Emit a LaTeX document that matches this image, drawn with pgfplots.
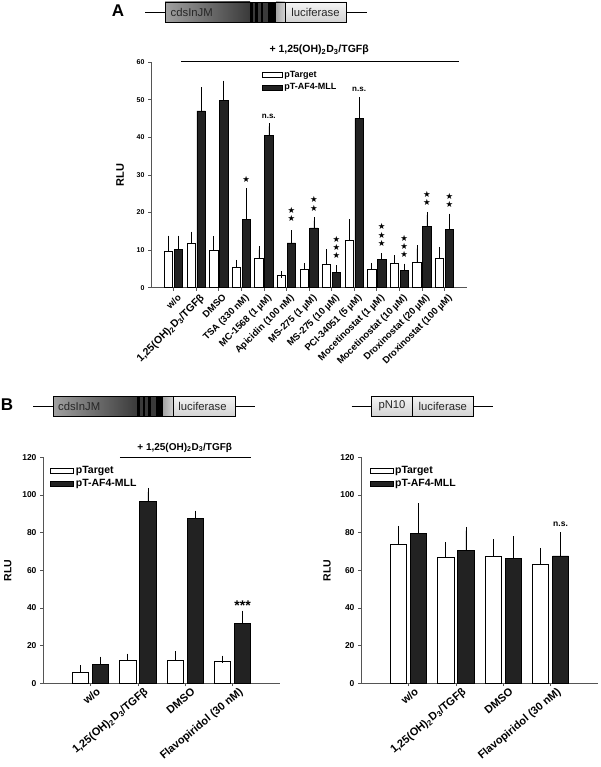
\documentclass[border=0pt]{standalone}
\usepackage{pgfplots}
\pgfplotsset{compat=1.18}
\usepackage{pgfplotstable}
\usepackage{fontspec}
\setmainfont{Liberation Sans}
\newfontfamily\dejavu{DejaVu Sans}
\definecolor{barblack}{HTML}{222222}
\definecolor{axgray}{HTML}{555555}
\definecolor{dl}{HTML}{A0A0A0}
\definecolor{dd}{HTML}{3A3A3A}

\pgfplotstableread{
x y e
0 9.8 3.2
1 11.8 2.2
2 9.9 2.9
3 5.5 1.0
4 7.8 2.3
5 3.4 0.15
6 4.9 0.85
7 6.3 3.0
8 12.6 4.7
9 5.0 0.75
10 6.4 1.3
11 6.7 3.7
12 7.9 2.1
}\Awhite
\pgfplotstableread{
x y e
0 10.1 2.9
1 47.0 5.4
2 49.8 4.4
3 18.1 7.5
4 40.5 2.4
5 11.9 2.5
6 15.9 1.9
7 4.1 1.0
8 45.0 4.7
9 7.6 0.7
10 4.7 0.8
11 16.3 3.0
12 15.5 3.3
}\Ablack
\pgfplotstableread{
x y e
0 5.8 1.8
1 12.4 1.4
2 12.2 2.7
3 11.5 1.2
}\BLwhite
\pgfplotstableread{
x y e
0 10.1 2.1
1 96.4 5.3
2 87.6 2.1
3 32.0 4.6
}\BLblack
\pgfplotstableread{
x y e
0 73.7 7.9
1 66.7 6.2
2 67.2 7.2
3 63.2 6.7
}\BRwhite
\pgfplotstableread{
x y e
0 79.7 14.0
1 70.4 10.7
2 66.4 9.7
3 67.6 10.6
}\BRblack

\pgfplotsset{
  rlu/.style={
    scale only axis,
    ybar,
    axis x line*=bottom, axis y line*=left,
    axis line style={axgray, line width=0.6pt},
    tick style={axgray, line width=0.6pt},
    tick align=outside,
    major tick length=3pt,
    ymin=0, xmin=-1,
    enlargelimits=false,
    clip=false,
    /pgf/number format/assume math mode=true,
    legend cell align=left,
    error bars/y dir=plus,
    error bars/y explicit,
    error bars/error bar style={black, line width=0.6pt},
  },
  wbar/.style={draw=black, fill=white, line width=0.6pt},
  kbar/.style={draw=black, fill=barblack, line width=0.6pt},
}

\newcommand{\stars}[2]{\pgfplotsinvokeforeach{#2}{\node[font=\dejavu\fontsize{8.5}{8.5}\selectfont, inner sep=0pt] at (axis cs:#1,##1) {★};}}
\newcommand{\vd}{1,25(OH)\textsubscript{2}D\textsubscript{3}/TGFβ}

\begin{document}
\begin{tikzpicture}[x=1pt,y=1pt]
\useasboundingbox (0,0) rectangle (600,-767);

% ---------- gene diagram A
\draw[line width=0.7pt] (145,-12) -- (366.7,-12);
\shade[left color=dl, right color=dd] (165,-2) rectangle (250,-22);
\fill[dd] (250,-2) rectangle (276,-22);
\foreach \a/\b in {250/252.7, 255.3/258, 260.7/263.3, 268.3/275.7} \fill[black] (\a,-2) rectangle (\b,-22);
\shade[left color=gray!70, right color=gray!35] (276,-2) rectangle (285,-22);
\shade[top color=gray!8, bottom color=gray!35] (285,-2) rectangle (346.7,-22);
\draw[line width=0.6pt] (165,-2) rectangle (346.7,-22);
\draw[line width=0.6pt] (285,-2) -- (285,-22);
\node[font=\fontsize{11.3}{12}\selectfont, text=black!85] at (191.7,-12) {cdsInJM};
\node[font=\fontsize{11.3}{12}\selectfont, text=black!85] at (315.5,-12) {luciferase};
\node[font=\bfseries\fontsize{17}{17}\selectfont] at (118,-11) {A};

% ---------- panel A
\begin{axis}[rlu,
  at={(151pt,-287.7pt)}, anchor=south west,
  width=316pt, height=225.7pt,
  xmax=13, ymax=60,
  bar width=0.37,
  xtick={0,...,12},
  xticklabels={w/o, {\fontsize{10.5}{11}\selectfont\vd}, DMSO, TSA (330 nM), MC-1568 (1 µM), Apicidin (100 nM), MS-275 (1 µM), MS-275 (10 µM), PCI-34051 (5 µM), Mocetinostat (1 µM), Mocetinostat (10 µM), Droxinostat (20 µM), Droxinostat (100 µM)},
  xticklabel style={font=\bfseries\fontsize{9.5}{10}\selectfont, rotate=45, anchor=north east, inner sep=1pt, yshift=-3pt, xshift=1.5pt},
  ytick={0,10,...,60},
  yticklabel style={font=\bfseries\fontsize{7}{8}\selectfont},
  ylabel={RLU},
  ylabel style={font=\bfseries\fontsize{11}{12}\selectfont, at={(axis description cs:-0.098,0.5)}, anchor=center},
  error bars/error mark options={black, line width=0.6pt, mark size=3.3pt},
  legend image code/.code={\draw[#1,draw=black] (0pt,-2.5pt) rectangle (20pt,2.5pt);},
  legend style={draw=none, fill=none, at={(0.35,0.97)}, anchor=north west, inner sep=0pt, row sep=1pt,
     font=\bfseries\fontsize{9}{10}\selectfont},
]
\addplot[wbar, bar shift=-0.22] table[x=x, y=y, y error=e] {\Awhite};
\addplot[kbar, bar shift=0.22] table[x=x, y=y, y error=e] {\Ablack};
\legend{pTarget, pT-AF4-MLL}
\draw[line width=0.7pt] (axis cs:0.33,60.2) -- (axis cs:12.65,60.2);
\node[font=\bfseries\fontsize{10.5}{12}\selectfont] at (axis cs:6.45,63.2) {+ \vd};
\stars{3.22}{28.8}
\stars{5.22}{20.6,18.4}
\stars{6.22}{23.5,21.2}
\stars{7.22}{12.9,10.7,8.5}
\stars{9.22}{16.2,14.0,11.8}
\stars{10.22}{13.1,10.9,8.8}
\stars{11.22}{24.8,22.6}
\stars{12.22}{24.3,22.1}
\node[font=\bfseries\fontsize{8}{9}\selectfont] at (axis cs:4.22,45.6) {n.s.};
\node[font=\bfseries\fontsize{8}{9}\selectfont] at (axis cs:8.22,52.7) {n.s.};
\end{axis}

% ---------- gene diagram B left
\draw[line width=0.7pt] (33.3,-406) -- (255,-406);
\shade[left color=dl, right color=dd] (53.3,-396) rectangle (137.3,-416.7);
\fill[dd] (137.3,-396) rectangle (163.3,-416.7);
\foreach \a/\b in {137.3/140, 142.7/145.3, 148/150.7, 156/163.3} \fill[black] (\a,-396) rectangle (\b,-416.7);
\shade[left color=gray!70, right color=gray!35] (163.3,-396) rectangle (173.3,-416.7);
\shade[top color=gray!8, bottom color=gray!35] (173.3,-396) rectangle (235,-416.7);
\draw[line width=0.6pt] (53.3,-396) rectangle (235,-416.7);
\draw[line width=0.6pt] (173.3,-396) -- (173.3,-416.7);
\node[font=\fontsize{11.3}{12}\selectfont, text=black!85] at (79.2,-406) {cdsInJM};
\node[font=\fontsize{11.3}{12}\selectfont, text=black!85] at (202.5,-406) {luciferase};
\node[font=\bfseries\fontsize{17}{17}\selectfont] at (7,-405) {B};

% ---------- gene diagram B right
\draw[line width=0.7pt] (351.7,-406) -- (493.3,-406);
\shade[top color=gray!8, bottom color=gray!35] (371.7,-396) rectangle (473.3,-416.7);
\draw[line width=0.6pt] (371.7,-396) rectangle (473.3,-416.7);
\draw[line width=0.6pt] (412.3,-396) -- (412.3,-416.7);
\node[font=\fontsize{11.3}{12}\selectfont, text=black!85] at (392,-406) {pN10};
\node[font=\fontsize{11.3}{12}\selectfont, text=black!85] at (442.8,-406) {luciferase};

% ---------- panel B left
\begin{axis}[rlu,
  at={(43pt,-683.3pt)}, anchor=south west,
  width=237pt, height=226pt,
  xmax=4, ymax=120,
  bar width=0.34,
  xtick={0,...,3},
  xticklabels={w/o, \vd, DMSO, Flavopiridol (30 nM)},
  xticklabel style={font=\bfseries\fontsize{11}{12}\selectfont, rotate=40, anchor=north east, inner sep=1pt, yshift=-3pt, xshift=5pt},
  ytick={0,20,...,120},
  yticklabel style={font=\bfseries\fontsize{8.5}{9}\selectfont},
  ylabel={RLU},
  ylabel style={font=\bfseries\fontsize{10.5}{12}\selectfont, at={(axis description cs:-0.148,0.5)}, anchor=center},
  error bars/error mark options={black, line width=0.6pt, mark size=3.8pt},
  legend image code/.code={\draw[#1,draw=black] (0pt,-2.5pt) rectangle (23pt,2.5pt);},
  legend style={draw=none, fill=none, at={(0.03,0.97)}, anchor=north west, inner sep=0pt, row sep=0.5pt,
     font=\bfseries\fontsize{10.5}{11}\selectfont},
]
\addplot[wbar, bar shift=-0.212] table[x=x, y=y, y error=e] {\BLwhite};
\addplot[kbar, bar shift=0.212] table[x=x, y=y, y error=e] {\BLblack};
\legend{pTarget, pT-AF4-MLL}
\draw[line width=0.7pt] (axis cs:0.62,120) -- (axis cs:3.38,120);
\node[font=\bfseries\fontsize{10}{12}\selectfont] at (axis cs:1.99,125.2) {+ \vd};
\node[font=\bfseries\fontsize{14}{14}\selectfont, inner sep=0pt] at (axis cs:3.21,41) {***};
\end{axis}

% ---------- panel B right
\begin{axis}[rlu,
  at={(361pt,-683.3pt)}, anchor=south west,
  width=237pt, height=226pt,
  xmax=4, ymax=120,
  bar width=0.34,
  xtick={0,...,3},
  xticklabels={w/o, \vd, DMSO, Flavopiridol (30 nM)},
  xticklabel style={font=\bfseries\fontsize{11}{12}\selectfont, rotate=40, anchor=north east, inner sep=1pt, yshift=-3pt, xshift=5pt},
  ytick={0,20,...,120},
  yticklabel style={font=\bfseries\fontsize{8.5}{9}\selectfont},
  ylabel={RLU},
  ylabel style={font=\bfseries\fontsize{10.5}{12}\selectfont, at={(axis description cs:-0.143,0.5)}, anchor=center},
  error bars/error mark options={black, line width=0.6pt, mark size=3.8pt},
  legend image code/.code={\draw[#1,draw=black] (0pt,-2.5pt) rectangle (23pt,2.5pt);},
  legend style={draw=none, fill=none, at={(0.035,0.97)}, anchor=north west, inner sep=0pt, row sep=0.5pt,
     font=\bfseries\fontsize{10.5}{11}\selectfont},
]
\addplot[wbar, bar shift=-0.212] table[x=x, y=y, y error=e] {\BRwhite};
\addplot[kbar, bar shift=0.212] table[x=x, y=y, y error=e] {\BRblack};
\legend{pTarget, pT-AF4-MLL}
\node[font=\bfseries\fontsize{8.5}{9}\selectfont] at (axis cs:3.21,84.4) {n.s.};
\end{axis}
\end{tikzpicture}
\end{document}
